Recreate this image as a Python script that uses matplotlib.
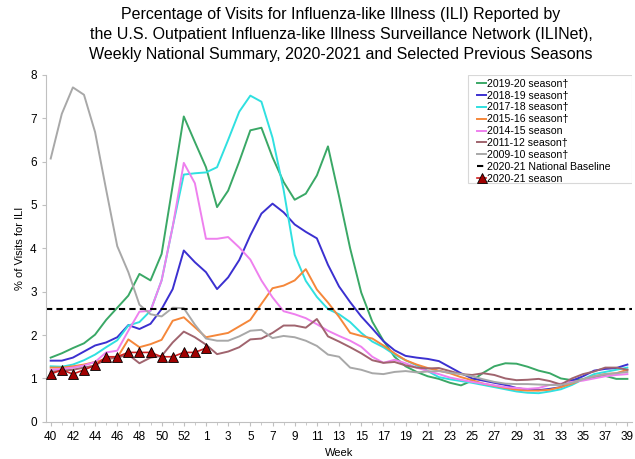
import numpy as np
import matplotlib
matplotlib.use('Agg')
import matplotlib.pyplot as plt
from matplotlib.ticker import MultipleLocator, FixedLocator
from matplotlib.patches import Rectangle

plt.rcParams['font.family'] = ['Liberation Sans', 'DejaVu Sans']

# 周次：40..53, 1..39
weeks = list(range(40, 54)) + list(range(1, 40))

s2019_20 = [1.48, 1.58, 1.70, 1.81, 2.01, 2.35, 2.63, 2.91, 3.41, 3.26, 3.87, 5.45, 7.04, 6.45,
            5.87, 4.95, 5.33, 6.0, 6.72, 6.78, 6.1, 5.53, 5.12, 5.26, 5.68, 6.35, 5.2, 4.0, 2.98, 2.31, 1.87, 1.5,
            1.28, 1.15, 1.05, 0.99, 0.9, 0.84, 0.95, 1.13, 1.28, 1.35, 1.34, 1.27, 1.18, 1.12, 1.0, 0.96, 0.98, 1.03, 1.06, 0.99, 0.99]
s2018_19 = [1.41, 1.41, 1.48, 1.62, 1.76, 1.83, 1.95, 2.23, 2.14, 2.26, 2.6, 3.06, 3.95, 3.68,
            3.45, 3.06, 3.33, 3.73, 4.3, 4.8, 5.03, 4.83, 4.55, 4.38, 4.23, 3.62, 3.12, 2.76, 2.43, 2.15, 1.86, 1.65,
            1.52, 1.48, 1.45, 1.40, 1.26, 1.12, 1.0, 0.95, 0.9, 0.85, 0.78, 0.74, 0.73, 0.76, 0.8, 0.95, 1.05, 1.18, 1.22, 1.24, 1.32]
s2017_18 = [1.28, 1.27, 1.32, 1.42, 1.55, 1.72, 1.88, 2.22, 2.3, 2.56, 3.26, 4.5, 5.7, 5.73,
            5.75, 5.87, 6.5, 7.15, 7.52, 7.38, 6.55, 5.35, 3.85, 3.25, 2.88, 2.6, 2.48, 2.3, 2.05, 1.85, 1.72, 1.55,
            1.42, 1.3, 1.17, 1.03, 0.98, 0.94, 0.9, 0.85, 0.8, 0.75, 0.7, 0.67, 0.66, 0.7, 0.75, 0.85, 0.98, 1.1, 1.15, 1.2, 1.25]
s2015_16 = [1.25, 1.25, 1.28, 1.32, 1.38, 1.45, 1.48, 1.9, 1.72, 1.79, 1.89, 2.33, 2.41, 2.18,
            1.95, 2.0, 2.05, 2.2, 2.35, 2.72, 3.08, 3.14, 3.26, 3.52, 3.05, 2.75, 2.42, 2.05, 1.98, 1.92, 1.76, 1.58,
            1.42, 1.32, 1.24, 1.18, 1.12, 1.03, 0.96, 0.88, 0.83, 0.78, 0.74, 0.72, 0.72, 0.74, 0.8, 0.88, 0.98, 1.05, 1.1, 1.12, 1.2]
s2014_15 = [1.2, 1.22, 1.25, 1.3, 1.38, 1.6, 1.64, 2.1, 2.54, 2.56, 3.26, 4.5, 5.97, 5.5,
            4.22, 4.22, 4.26, 4.02, 3.74, 3.26, 2.87, 2.55, 2.48, 2.39, 2.25, 2.1, 1.98, 1.87, 1.73, 1.5, 1.36, 1.43,
            1.35, 1.25, 1.17, 1.1, 1.02, 0.97, 0.92, 0.88, 0.84, 0.8, 0.78, 0.76, 0.78, 0.85, 0.88, 0.92, 0.95, 1.0, 1.05, 1.08, 1.1]
s2011_12 = [1.15, 1.18, 1.2, 1.25, 1.3, 1.45, 1.48, 1.55, 1.35, 1.48, 1.52, 1.83, 2.08, 1.95,
            1.78, 1.56, 1.62, 1.72, 1.9, 1.92, 2.05, 2.22, 2.22, 2.17, 2.37, 1.97, 1.85, 1.72, 1.58, 1.42, 1.36, 1.38,
            1.3, 1.25, 1.23, 1.24, 1.17, 1.1, 1.08, 1.12, 1.08, 1.0, 0.96, 0.97, 0.99, 0.94, 0.86, 1.0, 1.1, 1.16, 1.25, 1.25, 1.2]
s2009_10 = [6.07, 7.1, 7.71, 7.54, 6.68, 5.35, 4.05, 3.45, 2.7, 2.48, 2.43, 2.63, 2.62, 2.24,
            1.92, 1.87, 1.87, 1.97, 2.1, 2.12, 1.93, 1.98, 1.95, 1.87, 1.75, 1.55, 1.5, 1.25, 1.2, 1.12, 1.1, 1.15,
            1.17, 1.14, 1.16, 1.17, 1.13, 1.1, 1.05, 0.98, 0.92, 0.88, 0.87, 0.87, 0.86, 0.85, 0.85, 0.9, 0.98, 1.05, 1.1, 1.12, 1.15]
s2020_21 = [1.1, 1.2, 1.1, 1.2, 1.3, 1.5, 1.5, 1.6, 1.6, 1.6, 1.5, 1.5, 1.6, 1.6, 1.7]
baseline = 2.6

title_lines = ['Percentage of Visits for Influenza-like Illness (ILI) Reported by',
               'the U.S. Outpatient Influenza-like Illness Surveillance Network (ILINet),',
               'Weekly National Summary, 2020-2021 and Selected Previous Seasons']

x = np.arange(len(weeks))

fig = plt.figure(figsize=(6.35, 4.59), dpi=100)
ax = fig.add_axes([0.072, 0.081, 0.923, 0.756])

lw = 1.4
ax.plot(x, s2019_20, color='#3aa866', lw=lw, label='2019-20 season†')
ax.plot(x, s2018_19, color='#3b30d0', lw=lw, label='2018-19 season†')
ax.plot(x, s2017_18, color='#30e0e0', lw=lw, label='2017-18 season†')
ax.plot(x, s2015_16, color='#f5873a', lw=lw, label='2015-16 season†')
ax.plot(x, s2014_15, color='#ee80ee', lw=lw, label='2014-15 season')
ax.plot(x, s2011_12, color='#a0646e', lw=lw, label='2011-12 season†')
ax.plot(x, s2009_10, color='#a8a8a8', lw=lw, label='2009-10 season†')
ax.axhline(baseline, color='black', ls=(0, (3, 2)), lw=1.5, label='2020-21 National Baseline')
ax.plot(x[:len(s2020_21)], s2020_21, color='#d02020', lw=1.2, marker='^', ms=7,
        mfc='#a00000', mec='black', mew=0.6, label='2020-21 season', zorder=5)

ax.set_xlim(-0.45, 52.4)
ax.set_ylim(0, 8)
ax.xaxis.set_major_locator(FixedLocator(x[::2]))
ax.set_xticklabels([str(w) for w in weeks[::2]])
ax.xaxis.set_minor_locator(MultipleLocator(1))
ax.yaxis.set_major_locator(MultipleLocator(1))
ax.tick_params(axis='both', labelsize=8.5, color='#c0c0c0', length=3)
ax.tick_params(axis='x', which='minor', color='#c0c0c0', length=2)
for s in ['top', 'right']:
    ax.spines[s].set_visible(False)
for s in ['left', 'bottom']:
    ax.spines[s].set_color('#c0c0c0')

ax.set_xlabel('Week', fontsize=8)
ax.set_ylabel('% of Visits for ILI', fontsize=8)

# 图例：无边框，外框单独画
leg = ax.legend(loc='upper left', bbox_to_anchor=(0.732, 0.995), borderaxespad=0,
                fontsize=7.6, handlelength=0.9, handletextpad=0.1, labelspacing=0.18,
                frameon=False, borderpad=0.2)
ax.add_patch(Rectangle((0.72, 0.689), 0.28, 0.311, transform=ax.transAxes,
                       facecolor='white', edgecolor='#d8d8d8', lw=0.8, zorder=4))
leg.set_zorder(6)

for k, line in enumerate(title_lines):
    fig.text(341 / 635, 1 - (15 + 20 * k) / 459, line, ha='center', va='center', fontsize=11.5)

plt.savefig('out.png', dpi=100)
